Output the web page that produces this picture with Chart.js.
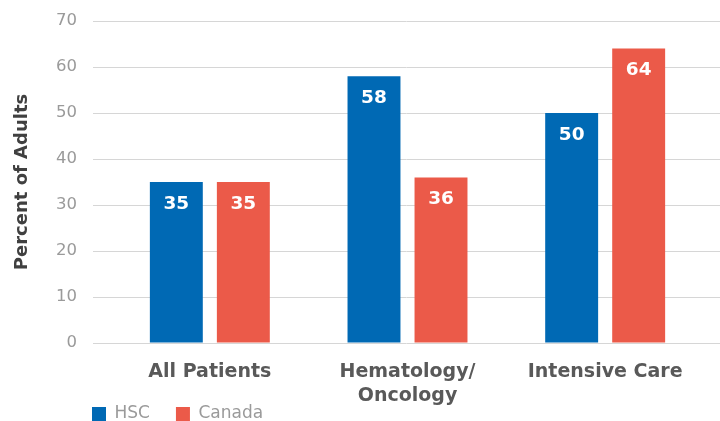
<!DOCTYPE html>
<html>
<head>
<meta charset="utf-8">
<script src="https://cdn.jsdelivr.net/npm/chart.js@4.4.1/dist/chart.umd.min.js"></script>
<style>
  html, body { margin: 0; padding: 0; background: #fff; }
  #wrap { width: 720px; height: 421px; position: relative; }
</style>
</head>
<body>
<div id="wrap"><canvas id="chart"></canvas></div>
<script>
// Chart data
const categories = ['All Patients', ['Hematology/', 'Oncology'], 'Intensive Care'];
const seriesNames = ['HSC', 'Canada'];
const hscValues = [35, 58, 50];
const canadaValues = [35, 36, 64];
const yTickValues = [0, 10, 20, 30, 40, 50, 60, 70];

const BLUE = '#0069B4';
const RED = '#EB5A49';
const FONT = '"DejaVu Sans", sans-serif';

// Horizontal grid lines that run past the plot area on both sides
const gridLines = {
  id: 'gridLines',
  beforeDatasetsDraw(chart) {
    const { ctx, chartArea, scales } = chart;
    const y = scales.y;
    ctx.save();
    ctx.strokeStyle = '#d6d6d6';
    ctx.lineWidth = 1;
    y.ticks.forEach(t => {
      const py = Math.round(y.getPixelForValue(t.value)) + 0.5;
      ctx.beginPath();
      ctx.moveTo(chartArea.left - 18, py);
      ctx.lineTo(chart.width, py);
      ctx.stroke();
    });
    ctx.restore();
  }
};

// White value labels inside the top of each bar
const valueLabels = {
  id: 'valueLabels',
  afterDatasetsDraw(chart) {
    const { ctx } = chart;
    ctx.save();
    ctx.fillStyle = '#ffffff';
    ctx.font = 'bold 18.5px ' + FONT;
    ctx.textAlign = 'center';
    ctx.textBaseline = 'middle';
    chart.data.datasets.forEach((ds, di) => {
      chart.getDatasetMeta(di).data.forEach((bar, i) => {
        ctx.fillText(String(ds.data[i]), bar.x, bar.y + 22);
      });
    });
    ctx.restore();
  }
};

// Put the legend in the bottom-left corner, under the axis labels
const legendPlacement = {
  id: 'legendPlacement',
  afterLayout(chart) {
    const lg = chart.legend;
    if (!lg) return;
    const pad = lg.options.labels.padding;
    lg.left = 92 - pad;
    lg.right = chart.width;
    lg.width = lg.right - lg.left;
    lg.top = 405.5 - pad;
    lg.bottom = chart.height;
    lg.height = lg.bottom - lg.top;
  }
};

new Chart(document.getElementById('chart'), {
  type: 'bar',
  data: {
    labels: categories,
    datasets: [
      { label: seriesNames[0], data: hscValues, backgroundColor: BLUE },
      { label: seriesNames[1], data: canadaValues, backgroundColor: RED }
    ]
  },
  options: {
    responsive: true,
    maintainAspectRatio: false,
    devicePixelRatio: 1,
    animation: false,
    layout: { padding: { top: 21, right: 16, bottom: 0, left: 0 } },
    datasets: { bar: { categoryPercentage: 0.678, barPercentage: 0.79 } },
    plugins: {
      legend: {
        position: 'bottom',
        align: 'start',
        maxHeight: 1,
        labels: {
          boxWidth: 14,
          boxHeight: 14,
          padding: 26,
          color: '#9a9a9a',
          font: { family: FONT, size: 17, lineHeight: 1 }
        }
      },
      tooltip: { enabled: false }
    },
    scales: {
      x: {
        grid: { display: false },
        border: { display: false },
        ticks: {
          color: '#595959',
          padding: 9,
          font: { family: FONT, size: 19, weight: 'bold', lineHeight: 1.263 }
        },
        afterFit(scale) {
          const lg = scale.chart.legend;
          scale.height = 78 - (lg ? lg.height : 0);
        }
      },
      y: {
        min: 0,
        max: 70,
        afterBuildTicks(scale) {
          scale.ticks = yTickValues.map(v => ({ value: v }));
        },
        grid: {
          display: true,
          drawOnChartArea: false,
          drawTicks: true,
          tickLength: 34,
          color: 'rgba(0,0,0,0)'
        },
        border: { display: false },
        ticks: {
          color: '#9a9a9a',
          padding: 0,
          font: { family: FONT, size: 16.5 }
        },
        title: {
          display: true,
          text: 'Percent of Adults',
          color: '#404040',
          padding: { top: 12, bottom: 0 },
          font: { family: FONT, size: 18, weight: 'bold' }
        },
        afterFit(scale) {
          scale.width = 111;
        }
      }
    }
  },
  plugins: [gridLines, valueLabels, legendPlacement]
});
</script>
</body>
</html>
